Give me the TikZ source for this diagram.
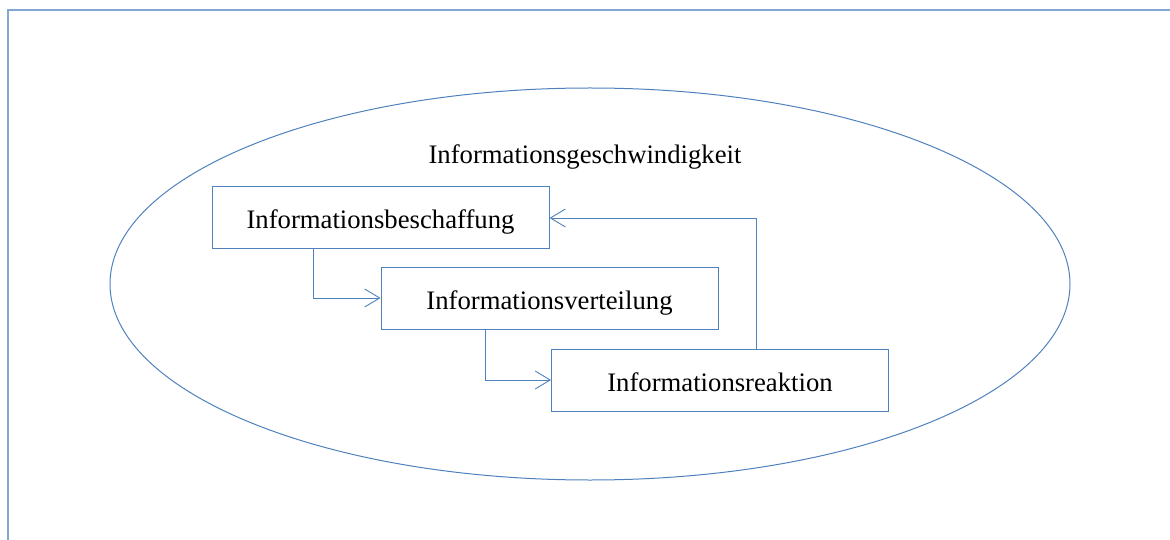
\documentclass[tikz,border=0pt]{standalone}
\usepackage{fontspec}
\setmainfont{Liberation Serif}
\usetikzlibrary{arrows.meta,shapes.geometric}
\definecolor{ublue}{HTML}{4F81BD}
\begin{document}
\begin{tikzpicture}[x=1pt,y=-1pt,
  line width=0.9pt,
  procbox/.style={draw=ublue, line width=1pt, minimum width=337pt, minimum height=62pt, inner sep=0pt, text height=21pt, text depth=0pt, font=\fontsize{26.7}{30}\selectfont},
  flow/.style={draw=ublue, line width=0.9pt, -{Straight Barb[length=15pt,width=18pt,line width=0.9pt]}}]
\useasboundingbox (0,0) rectangle (1170,540);
% frame
\draw[ublue!70, line width=1.2pt] (8,540) -- (8,10) -- (1170,10);
% ellipse
\node[draw=ublue, line width=1pt, ellipse, minimum width=960pt, minimum height=392pt, inner sep=0pt] (ell) at (590,284) {};
\node[font=\fontsize{26.7}{30}\selectfont, anchor=base, inner sep=0pt] (title) at (585,164) {Informationsgeschwindigkeit};
\node[procbox] (b1) at (380.5,218) {Informationsbeschaffung};
\node[procbox] (b2) at (549.5,298.5) {Informationsverteilung};
\node[procbox] (b3) at (720,380.5) {Informationsreaktion};
\coordinate (c1) at (313,298);
\coordinate (c2) at (485,380);
\coordinate (c3) at (756,218);
\draw[flow] (b1.south -| c1) -- (c1) -- (b2.west |- c1);
\draw[flow] (b2.south -| c2) -- (c2) -- (b3.west |- c2);
\draw[flow] (b3.north -| c3) -- (c3) -- (b1.east |- c3);
\end{tikzpicture}
\end{document}
